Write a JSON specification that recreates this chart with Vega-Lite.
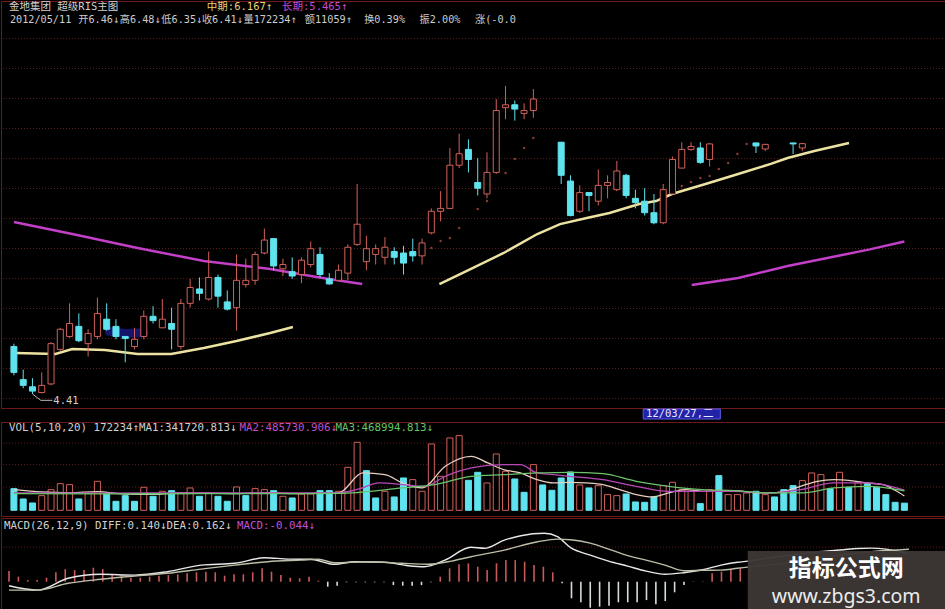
{
"$schema": "https://vega.github.io/schema/vega-lite/v6.json",
"background": "#000000",
"padding": 0,
"spacing": 0,
"resolve": {"scale": {"color": "independent"}},
"config": {"view": {"stroke": "#6e1a1a", "strokeWidth": 1}, "concat": {"spacing": 0}},
"datasets": {
"g1": [{"g":6.8808},{"g":6.6723},{"g":6.4638},{"g":6.2553},{"g":6.0468},{"g":5.8383},{"g":5.6298},{"g":5.4213},{"g":5.2128},{"g":5.0043},{"g":4.7958},{"g":4.5873},{"g":4.3788}],
"g2": [{"g":1615000},{"g":1100000},{"g":560000}],
"g3": [{"g":0.1735}],
"k": [
{"i":0,"o":4.74,"h":4.76,"l":4.54,"c":4.56,"d":"dn"},
{"i":1,"o":4.51,"h":4.58,"l":4.45,"c":4.47,"d":"dn"},
{"i":2,"o":4.46,"h":4.52,"l":4.41,"c":4.43,"d":"dn"},
{"i":3,"o":4.42,"h":4.56,"l":4.415,"c":4.47,"d":"up"},
{"i":4,"o":4.48,"h":4.77,"l":4.47,"c":4.76,"d":"up"},
{"i":5,"o":4.72,"h":4.87,"l":4.71,"c":4.86,"d":"up"},
{"i":6,"o":4.81,"h":5.04,"l":4.80,"c":4.90,"d":"up"},
{"i":7,"o":4.88,"h":4.97,"l":4.77,"c":4.78,"d":"dn"},
{"i":8,"o":4.76,"h":4.86,"l":4.67,"c":4.83,"d":"up"},
{"i":9,"o":4.81,"h":5.08,"l":4.79,"c":4.97,"d":"up"},
{"i":10,"o":4.93,"h":5.04,"l":4.85,"c":4.86,"d":"dn"},
{"i":11,"o":4.88,"h":4.93,"l":4.79,"c":4.81,"d":"dn"},
{"i":12,"o":4.81,"h":4.81,"l":4.63,"c":4.795,"d":"dn"},
{"i":13,"o":4.74,"h":4.87,"l":4.72,"c":4.79,"d":"up"},
{"i":14,"o":4.81,"h":4.99,"l":4.79,"c":4.95,"d":"up"},
{"i":15,"o":4.95,"h":5.02,"l":4.90,"c":4.92,"d":"dn"},
{"i":16,"o":4.87,"h":5.07,"l":4.87,"c":4.93,"d":"up"},
{"i":17,"o":4.90,"h":5.01,"l":4.72,"c":4.86,"d":"dn"},
{"i":18,"o":4.74,"h":5.07,"l":4.72,"c":5.04,"d":"up"},
{"i":19,"o":5.04,"h":5.21,"l":5.01,"c":5.15,"d":"up"},
{"i":20,"o":5.14,"h":5.22,"l":5.06,"c":5.11,"d":"dn"},
{"i":21,"o":5.07,"h":5.40,"l":5.06,"c":5.22,"d":"up"},
{"i":22,"o":5.22,"h":5.24,"l":5.01,"c":5.09,"d":"dn"},
{"i":23,"o":5.05,"h":5.13,"l":4.99,"c":5.00,"d":"dn"},
{"i":24,"o":5.01,"h":5.38,"l":4.85,"c":5.20,"d":"up"},
{"i":25,"o":5.17,"h":5.35,"l":5.15,"c":5.20,"d":"up"},
{"i":26,"o":5.20,"h":5.40,"l":5.17,"c":5.38,"d":"up"},
{"i":27,"o":5.39,"h":5.56,"l":5.38,"c":5.48,"d":"up"},
{"i":28,"o":5.49,"h":5.49,"l":5.27,"c":5.30,"d":"dn"},
{"i":29,"o":5.28,"h":5.35,"l":5.23,"c":5.31,"d":"up"},
{"i":30,"o":5.26,"h":5.36,"l":5.21,"c":5.23,"d":"dn"},
{"i":31,"o":5.24,"h":5.36,"l":5.18,"c":5.34,"d":"up"},
{"i":32,"o":5.31,"h":5.47,"l":5.29,"c":5.42,"d":"up"},
{"i":33,"o":5.38,"h":5.43,"l":5.22,"c":5.24,"d":"dn"},
{"i":34,"o":5.21,"h":5.25,"l":5.17,"c":5.175,"d":"dn"},
{"i":35,"o":5.20,"h":5.31,"l":5.20,"c":5.27,"d":"up"},
{"i":36,"o":5.25,"h":5.45,"l":5.20,"c":5.43,"d":"up"},
{"i":37,"o":5.45,"h":5.87,"l":5.44,"c":5.59,"d":"up"},
{"i":38,"o":5.33,"h":5.51,"l":5.27,"c":5.42,"d":"up"},
{"i":39,"o":5.38,"h":5.45,"l":5.31,"c":5.42,"d":"up"},
{"i":40,"o":5.36,"h":5.50,"l":5.31,"c":5.43,"d":"up"},
{"i":41,"o":5.40,"h":5.43,"l":5.31,"c":5.36,"d":"dn"},
{"i":42,"o":5.39,"h":5.44,"l":5.24,"c":5.32,"d":"dn"},
{"i":43,"o":5.40,"h":5.49,"l":5.33,"c":5.37,"d":"dn"},
{"i":44,"o":5.37,"h":5.49,"l":5.31,"c":5.46,"d":"up"},
{"i":45,"o":5.53,"h":5.70,"l":5.52,"c":5.68,"d":"up"},
{"i":46,"o":5.68,"h":5.82,"l":5.61,"c":5.70,"d":"up"},
{"i":47,"o":5.70,"h":6.12,"l":5.70,"c":6.00,"d":"up"},
{"i":48,"o":6.00,"h":6.22,"l":5.98,"c":6.08,"d":"up"},
{"i":49,"o":6.11,"h":6.18,"l":5.95,"c":6.04,"d":"dn"},
{"i":50,"o":5.88,"h":6.05,"l":5.79,"c":5.84,"d":"dn"},
{"i":51,"o":5.80,"h":6.09,"l":5.77,"c":5.95,"d":"up"},
{"i":52,"o":5.95,"h":6.46,"l":5.94,"c":6.38,"d":"up"},
{"i":53,"o":6.40,"h":6.55,"l":6.32,"c":6.42,"d":"up"},
{"i":54,"o":6.42,"h":6.45,"l":6.31,"c":6.39,"d":"dn"},
{"i":55,"o":6.36,"h":6.43,"l":6.32,"c":6.38,"d":"up"},
{"i":56,"o":6.38,"h":6.53,"l":6.33,"c":6.46,"d":"up"},
{"i":59,"o":6.16,"h":6.16,"l":5.87,"c":5.93,"d":"dn"},
{"i":60,"o":5.89,"h":5.93,"l":5.645,"c":5.65,"d":"dn"},
{"i":61,"o":5.68,"h":5.86,"l":5.67,"c":5.81,"d":"up"},
{"i":62,"o":5.81,"h":5.81,"l":5.68,"c":5.79,"d":"dn"},
{"i":63,"o":5.75,"h":5.97,"l":5.72,"c":5.86,"d":"up"},
{"i":64,"o":5.86,"h":5.93,"l":5.77,"c":5.88,"d":"up"},
{"i":65,"o":5.83,"h":6.03,"l":5.82,"c":5.96,"d":"up"},
{"i":66,"o":5.93,"h":5.94,"l":5.77,"c":5.79,"d":"dn"},
{"i":67,"o":5.77,"h":5.83,"l":5.70,"c":5.74,"d":"dn"},
{"i":68,"o":5.75,"h":5.84,"l":5.65,"c":5.67,"d":"dn"},
{"i":69,"o":5.67,"h":5.80,"l":5.59,"c":5.60,"d":"dn"},
{"i":70,"o":5.60,"h":5.87,"l":5.59,"c":5.83,"d":"up"},
{"i":71,"o":5.80,"h":6.06,"l":5.80,"c":6.04,"d":"up"},
{"i":72,"o":5.98,"h":6.16,"l":5.98,"c":6.11,"d":"up"},
{"i":73,"o":6.11,"h":6.16,"l":6.10,"c":6.13,"d":"up"},
{"i":74,"o":6.12,"h":6.16,"l":6.01,"c":6.02,"d":"dn"},
{"i":75,"o":6.04,"h":6.155,"l":5.99,"c":6.148,"d":"up"},
{"i":80,"o":6.155,"h":6.155,"l":6.085,"c":6.134,"d":"dn"},
{"i":81,"o":6.113,"h":6.148,"l":6.099,"c":6.145,"d":"up"},
{"i":84,"o":6.155,"h":6.155,"l":6.078,"c":6.148,"d":"dn"},
{"i":85,"o":6.12,"h":6.155,"l":6.10,"c":6.15,"d":"up"}
],
"ma": [
{"s":"p1","i":0,"p":5.605},{"s":"p1","i":6.29,"p":5.522},{"s":"p1","i":13.33,"p":5.425},{"s":"p1","i":20.48,"p":5.334},{"s":"p1","i":27.63,"p":5.279},{"s":"p1","i":33.28,"p":5.216},{"s":"p1","i":36.8,"p":5.181},{"s":"p1","i":37.55,"p":5.174},
{"s":"p2","i":73.07,"p":5.168},{"s":"p2","i":78.08,"p":5.216},{"s":"p2","i":83.41,"p":5.3},{"s":"p2","i":88.75,"p":5.369},{"s":"p2","i":92.27,"p":5.415},{"s":"p2","i":96,"p":5.47},
{"s":"y1","i":0.21,"p":4.695},{"s":"y1","i":4.48,"p":4.688},{"s":"y1","i":6.29,"p":4.723},{"s":"y1","i":9.81,"p":4.716},{"s":"y1","i":13.33,"p":4.688},{"s":"y1","i":16.96,"p":4.688},{"s":"y1","i":20.48,"p":4.73},{"s":"y1","i":24.0,"p":4.778},{"s":"y1","i":27.63,"p":4.834},{"s":"y1","i":30.08,"p":4.876},
{"s":"y2","i":45.87,"p":5.174},{"s":"y2","i":49.28,"p":5.279},{"s":"y2","i":52.8,"p":5.39},{"s":"y2","i":56.43,"p":5.522},{"s":"y2","i":58.88,"p":5.591},{"s":"y2","i":61.76,"p":5.633},{"s":"y2","i":64.21,"p":5.668},{"s":"y2","i":67.41,"p":5.731},{"s":"y2","i":69.23,"p":5.751},{"s":"y2","i":70.93,"p":5.8},{"s":"y2","i":74.56,"p":5.87},{"s":"y2","i":78.08,"p":5.939},{"s":"y2","i":81.6,"p":6.009},{"s":"y2","i":83.41,"p":6.05},{"s":"y2","i":86.29,"p":6.099},{"s":"y2","i":90.03,"p":6.155}
],
"dots": [
{"i":45,"p":5.425},{"i":46,"p":5.473},{"i":47,"p":5.494},{"i":48,"p":5.564},{"i":50,"p":5.696},{"i":51,"p":5.751},{"i":53,"p":5.946},{"i":54,"p":6.043},{"i":55,"p":6.12},{"i":56,"p":6.189},
{"i":72,"p":5.856},{"i":73,"p":5.883},{"i":74,"p":5.911},{"i":75,"p":5.925},{"i":76,"p":5.974},{"i":77,"p":6.016},{"i":78,"p":6.078},{"i":79,"p":6.148}
],
"vol": [
{"i":0,"v":520000,"d":"dn"},{"i":1,"v":272000,"d":"dn"},{"i":2,"v":176000,"d":"dn"},{"i":3,"v":352000,"d":"up"},{"i":4,"v":496000,"d":"up"},{"i":5,"v":640000,"d":"up"},{"i":6,"v":616000,"d":"up"},{"i":7,"v":272000,"d":"dn"},{"i":8,"v":400000,"d":"up"},{"i":9,"v":696000,"d":"up"},
{"i":10,"v":400000,"d":"dn"},{"i":11,"v":216000,"d":"dn"},{"i":12,"v":352000,"d":"dn"},{"i":13,"v":216000,"d":"dn"},{"i":14,"v":552000,"d":"up"},{"i":15,"v":336000,"d":"dn"},{"i":16,"v":456000,"d":"up"},{"i":17,"v":472000,"d":"dn"},{"i":18,"v":400000,"d":"up"},{"i":19,"v":536000,"d":"up"},
{"i":20,"v":336000,"d":"dn"},{"i":21,"v":416000,"d":"up"},{"i":22,"v":336000,"d":"dn"},{"i":23,"v":216000,"d":"dn"},{"i":24,"v":560000,"d":"up"},{"i":25,"v":352000,"d":"dn"},{"i":26,"v":520000,"d":"up"},{"i":27,"v":496000,"d":"up"},{"i":28,"v":472000,"d":"dn"},{"i":29,"v":336000,"d":"up"},
{"i":30,"v":296000,"d":"dn"},{"i":31,"v":392000,"d":"up"},{"i":32,"v":392000,"d":"up"},{"i":33,"v":472000,"d":"dn"},{"i":34,"v":472000,"d":"dn"},{"i":35,"v":456000,"d":"up"},{"i":36,"v":1032000,"d":"up"},{"i":37,"v":1632000,"d":"up"},{"i":38,"v":952000,"d":"dn"},{"i":39,"v":296000,"d":"dn"},
{"i":40,"v":456000,"d":"up"},{"i":41,"v":320000,"d":"dn"},{"i":42,"v":776000,"d":"dn"},{"i":43,"v":736000,"d":"up"},{"i":44,"v":456000,"d":"up"},{"i":45,"v":1592000,"d":"up"},{"i":46,"v":816000,"d":"up"},{"i":47,"v":1736000,"d":"up"},{"i":48,"v":1792000,"d":"up"},{"i":49,"v":720000,"d":"dn"},
{"i":50,"v":912000,"d":"dn"},{"i":51,"v":656000,"d":"up"},{"i":52,"v":1352000,"d":"up"},{"i":53,"v":936000,"d":"up"},{"i":54,"v":752000,"d":"dn"},{"i":55,"v":432000,"d":"dn"},{"i":56,"v":1096000,"d":"up"},{"i":57,"v":608000,"d":"dn"},{"i":58,"v":480000,"d":"dn"},{"i":59,"v":776000,"d":"dn"},
{"i":60,"v":920000,"d":"dn"},{"i":61,"v":608000,"d":"up"},{"i":62,"v":536000,"d":"dn"},{"i":63,"v":592000,"d":"up"},{"i":64,"v":376000,"d":"up"},{"i":65,"v":352000,"d":"up"},{"i":66,"v":392000,"d":"dn"},{"i":67,"v":200000,"d":"dn"},{"i":68,"v":192000,"d":"dn"},{"i":69,"v":320000,"d":"dn"},
{"i":70,"v":592000,"d":"up"},{"i":71,"v":672000,"d":"up"},{"i":72,"v":496000,"d":"up"},{"i":73,"v":456000,"d":"up"},{"i":74,"v":160000,"d":"dn"},{"i":75,"v":496000,"d":"up"},{"i":76,"v":832000,"d":"dn"},{"i":77,"v":376000,"d":"up"},{"i":78,"v":376000,"d":"up"},{"i":79,"v":416000,"d":"up"},
{"i":80,"v":456000,"d":"dn"},{"i":81,"v":376000,"d":"up"},{"i":82,"v":320000,"d":"dn"},{"i":83,"v":496000,"d":"dn"},{"i":84,"v":592000,"d":"dn"},{"i":85,"v":712000,"d":"up"},{"i":86,"v":896000,"d":"up"},{"i":87,"v":856000,"d":"up"},{"i":88,"v":520000,"d":"dn"},{"i":89,"v":912000,"d":"up"},
{"i":90,"v":552000,"d":"dn"},{"i":91,"v":656000,"d":"up"},{"i":92,"v":640000,"d":"dn"},{"i":93,"v":552000,"d":"dn"},{"i":94,"v":376000,"d":"dn"},{"i":95,"v":192000,"d":"dn"},{"i":96,"v":172234,"d":"dn"}
],
"vma": [
{"s":"MA1","i":0,"v":496000},{"s":"MA1","i":3,"v":440000},{"s":"MA1","i":6,"v":420000},{"s":"MA1","i":9,"v":450000},{"s":"MA1","i":12,"v":390000},{"s":"MA1","i":15,"v":380000},{"s":"MA1","i":18,"v":420000},{"s":"MA1","i":21,"v":410000},{"s":"MA1","i":24,"v":400000},{"s":"MA1","i":27,"v":420000},{"s":"MA1","i":30,"v":400000},{"s":"MA1","i":33,"v":410000},{"s":"MA1","i":35,"v":416000},{"s":"MA1","i":37.6,"v":896000},{"s":"MA1","i":40,"v":856000},{"s":"MA1","i":41.9,"v":656000},{"s":"MA1","i":44,"v":536000},{"s":"MA1","i":46.5,"v":1056000},{"s":"MA1","i":49.3,"v":1296000},{"s":"MA1","i":51.1,"v":1136000},{"s":"MA1","i":52.8,"v":976000},{"s":"MA1","i":54.6,"v":896000},{"s":"MA1","i":56.4,"v":736000},{"s":"MA1","i":58.2,"v":656000},{"s":"MA1","i":59.9,"v":672000},{"s":"MA1","i":61.7,"v":656000},{"s":"MA1","i":63.5,"v":616000},{"s":"MA1","i":65.3,"v":496000},{"s":"MA1","i":67.1,"v":376000},{"s":"MA1","i":68.8,"v":320000},{"s":"MA1","i":70.6,"v":416000},{"s":"MA1","i":72.4,"v":496000},{"s":"MA1","i":74.2,"v":456000},{"s":"MA1","i":76,"v":456000},{"s":"MA1","i":77.7,"v":472000},{"s":"MA1","i":79.5,"v":432000},{"s":"MA1","i":81.3,"v":416000},{"s":"MA1","i":83.1,"v":456000},{"s":"MA1","i":84.8,"v":576000},{"s":"MA1","i":86.6,"v":696000},{"s":"MA1","i":88.4,"v":736000},{"s":"MA1","i":90.2,"v":712000},{"s":"MA1","i":92,"v":656000},{"s":"MA1","i":93.7,"v":616000},{"s":"MA1","i":95,"v":480000},{"s":"MA1","i":96,"v":341720},
{"s":"MA2","i":0,"v":416000},{"s":"MA2","i":10,"v":410000},{"s":"MA2","i":20,"v":420000},{"s":"MA2","i":30,"v":416000},{"s":"MA2","i":35,"v":416000},{"s":"MA2","i":37,"v":500000},{"s":"MA2","i":39.4,"v":656000},{"s":"MA2","i":41.9,"v":616000},{"s":"MA2","i":44.3,"v":576000},{"s":"MA2","i":46.5,"v":816000},{"s":"MA2","i":49.3,"v":1016000},{"s":"MA2","i":52.8,"v":1096000},{"s":"MA2","i":54.6,"v":1096000},{"s":"MA2","i":56.4,"v":896000},{"s":"MA2","i":58.2,"v":856000},{"s":"MA2","i":59.9,"v":816000},{"s":"MA2","i":63.5,"v":736000},{"s":"MA2","i":67.1,"v":576000},{"s":"MA2","i":70.6,"v":456000},{"s":"MA2","i":74.2,"v":456000},{"s":"MA2","i":77.7,"v":456000},{"s":"MA2","i":81.3,"v":416000},{"s":"MA2","i":84.8,"v":496000},{"s":"MA2","i":88.4,"v":656000},{"s":"MA2","i":92,"v":656000},{"s":"MA2","i":96,"v":485730},
{"s":"MA3","i":0,"v":400000},{"s":"MA3","i":10,"v":395000},{"s":"MA3","i":20,"v":400000},{"s":"MA3","i":30,"v":400000},{"s":"MA3","i":35,"v":405000},{"s":"MA3","i":41.9,"v":536000},{"s":"MA3","i":45.4,"v":616000},{"s":"MA3","i":49.3,"v":816000},{"s":"MA3","i":52.8,"v":856000},{"s":"MA3","i":56.4,"v":896000},{"s":"MA3","i":59.9,"v":912000},{"s":"MA3","i":63.5,"v":880000},{"s":"MA3","i":67.1,"v":696000},{"s":"MA3","i":70.6,"v":576000},{"s":"MA3","i":74.2,"v":496000},{"s":"MA3","i":77.7,"v":472000},{"s":"MA3","i":81.3,"v":416000},{"s":"MA3","i":84.8,"v":416000},{"s":"MA3","i":88.4,"v":536000},{"s":"MA3","i":92,"v":576000},{"s":"MA3","i":96,"v":468994}
],
"macd": [
{"i":0,"m":0.053},{"i":1,"m":0.025},{"i":2,"m":0.008},{"i":3,"m":0.008},{"i":4,"m":0.02},{"i":5,"m":0.047},{"i":6,"m":0.063},{"i":7,"m":0.058},{"i":8,"m":0.058},{"i":9,"m":0.07},
{"i":10,"m":0.063},{"i":11,"m":0.037},{"i":12,"m":0.033},{"i":13,"m":0.02},{"i":14,"m":0.02},{"i":15,"m":0.025},{"i":16,"m":0.03},{"i":17,"m":0.033},{"i":18,"m":0.037},{"i":19,"m":0.042},
{"i":20,"m":0.047},{"i":21,"m":0.05},{"i":22,"m":0.047},{"i":23,"m":0.03},{"i":24,"m":0.037},{"i":25,"m":0.037},{"i":26,"m":0.047},{"i":27,"m":0.067},{"i":28,"m":0.05},{"i":29,"m":0.033},
{"i":30,"m":0.02},{"i":31,"m":0.017},{"i":32,"m":0.025},{"i":33,"m":0.005},{"i":34,"m":-0.025},{"i":35,"m":-0.02},{"i":36,"m":-0.003},{"i":37,"m":-0.003},{"i":38,"m":-0.003},{"i":39,"m":-0.003},
{"i":40,"m":-0.003},{"i":41,"m":-0.017},{"i":42,"m":-0.02},{"i":43,"m":-0.02},{"i":44,"m":-0.017},{"i":45,"m":-0.003},{"i":46,"m":0.025},{"i":47,"m":0.067},{"i":48,"m":0.087},{"i":49,"m":0.092},
{"i":50,"m":0.075},{"i":51,"m":0.058},{"i":52,"m":0.092},{"i":53,"m":0.108},{"i":54,"m":0.108},{"i":55,"m":0.1},{"i":56,"m":0.083},{"i":57,"m":0.075},{"i":58,"m":0.047},{"i":59,"m":-0.008},
{"i":60,"m":-0.083},{"i":61,"m":-0.103},{"i":62,"m":-0.13},{"i":63,"m":-0.125},{"i":64,"m":-0.12},{"i":65,"m":-0.103},{"i":66,"m":-0.103},{"i":67,"m":-0.103},{"i":68,"m":-0.092},{"i":69,"m":-0.113},
{"i":70,"m":-0.097},{"i":71,"m":-0.053},{"i":72,"m":-0.017},{"i":73,"m":0.002},{"i":74,"m":0.002},{"i":75,"m":0.042},{"i":76,"m":0.05},{"i":77,"m":0.058},{"i":78,"m":0.067},{"i":79,"m":0.075}
],
"ml": [
{"s":"DIFF","i":0,"v":-0.02},{"s":"DIFF","i":3.1,"v":-0.042},{"s":"DIFF","i":6.3,"v":0.017},{"s":"DIFF","i":9.8,"v":0.037},{"s":"DIFF","i":13.4,"v":0.033},{"s":"DIFF","i":16.9,"v":0.05},{"s":"DIFF","i":20.5,"v":0.083},{"s":"DIFF","i":24.1,"v":0.092},{"s":"DIFF","i":27.3,"v":0.12},{"s":"DIFF","i":29.8,"v":0.113},{"s":"DIFF","i":32.2,"v":0.112},{"s":"DIFF","i":34.7,"v":0.087},{"s":"DIFF","i":36.9,"v":0.1},{"s":"DIFF","i":40.1,"v":0.097},{"s":"DIFF","i":42.6,"v":0.08},{"s":"DIFF","i":44.3,"v":0.075},{"s":"DIFF","i":46.5,"v":0.108},{"s":"DIFF","i":49.28,"v":0.172},{"s":"DIFF","i":50.7,"v":0.167},{"s":"DIFF","i":52.84,"v":0.208},{"s":"DIFF","i":54.6,"v":0.23},{"s":"DIFF","i":57.1,"v":0.242},{"s":"DIFF","i":58.5,"v":0.225},{"s":"DIFF","i":59.9,"v":0.17},{"s":"DIFF","i":62.0,"v":0.133},{"s":"DIFF","i":63.96,"v":0.103},{"s":"DIFF","i":65.99,"v":0.078},{"s":"DIFF","i":67.95,"v":0.053},{"s":"DIFF","i":69.97,"v":0.037},{"s":"DIFF","i":71.97,"v":0.045},{"s":"DIFF","i":73.99,"v":0.06},{"s":"DIFF","i":75.95,"v":0.083},{"s":"DIFF","i":77.7,"v":0.097},{"s":"DIFF","i":78.8,"v":0.103},{"s":"DIFF","i":82,"v":0.125},{"s":"DIFF","i":86,"v":0.148},{"s":"DIFF","i":89,"v":0.16},{"s":"DIFF","i":90.5,"v":0.166},{"s":"DIFF","i":92,"v":0.168},{"s":"DIFF","i":93.5,"v":0.163},{"s":"DIFF","i":95,"v":0.15},{"s":"DIFF","i":96,"v":0.14},
{"s":"DEA","i":0,"v":-0.042},{"s":"DEA","i":3.1,"v":-0.042},{"s":"DEA","i":6.3,"v":-0.008},{"s":"DEA","i":9.8,"v":0.012},{"s":"DEA","i":13.4,"v":0.028},{"s":"DEA","i":16.9,"v":0.042},{"s":"DEA","i":20.5,"v":0.063},{"s":"DEA","i":24.1,"v":0.083},{"s":"DEA","i":27.6,"v":0.1},{"s":"DEA","i":31.2,"v":0.108},{"s":"DEA","i":33,"v":0.112},{"s":"DEA","i":34.7,"v":0.095},{"s":"DEA","i":38.3,"v":0.1},{"s":"DEA","i":41.9,"v":0.092},{"s":"DEA","i":44.7,"v":0.087},{"s":"DEA","i":47.2,"v":0.103},{"s":"DEA","i":49.28,"v":0.125},{"s":"DEA","i":52.84,"v":0.158},{"s":"DEA","i":56.4,"v":0.2},{"s":"DEA","i":58.5,"v":0.213},{"s":"DEA","i":59.9,"v":0.21},{"s":"DEA","i":62.0,"v":0.193},{"s":"DEA","i":63.96,"v":0.163},{"s":"DEA","i":65.99,"v":0.13},{"s":"DEA","i":67.95,"v":0.108},{"s":"DEA","i":69.97,"v":0.083},{"s":"DEA","i":71.97,"v":0.055},{"s":"DEA","i":73.99,"v":0.057},{"s":"DEA","i":75.95,"v":0.058},{"s":"DEA","i":77.7,"v":0.067},{"s":"DEA","i":78.8,"v":0.073},{"s":"DEA","i":84,"v":0.1},{"s":"DEA","i":88,"v":0.13},{"s":"DEA","i":92,"v":0.15},{"s":"DEA","i":96,"v":0.162}
]
},
"vconcat": [
{
"width": 945, "height": 407,
"layer": [
{"data": {"name": "g1"}, "mark": {"type": "rule", "color": "#5e1c1c", "strokeWidth": 1, "strokeDash": [1, 2]},
 "encoding": {
  "y": {"field": "g", "type": "quantitative", "scale": {"domain": [4.3127, 7.1414], "nice": false, "zero": false}, "axis": null}
 }},
{"data": {"name": "ma"}, "mark": {"type": "line", "strokeWidth": 2.5},
 "encoding": {
  "x": {"field": "i", "type": "quantitative", "scale": {"domain": [-0.8533, 99.947], "nice": false, "zero": false}, "axis": null},
  "y": {"field": "p", "type": "quantitative", "scale": {"domain": [4.3127, 7.1414], "nice": false, "zero": false}, "axis": null},
  "color": {"field": "s", "type": "nominal", "scale": {"domain": ["p1", "p2", "y1", "y2"], "range": ["#c23fc8", "#c23fc8", "#ece3a2", "#ece3a2"]}, "legend": null},
  "detail": {"field": "s"}
 }},
{"data": {"values": [{"i": 10.3, "p": 4.845}, {"i": 12, "p": 4.83}, {"i": 14, "p": 4.835}]}, "mark": {"type": "line", "color": "#2a2ad8", "strokeWidth": 9, "opacity": 0.5, "strokeCap": "round"},
 "encoding": {
  "x": {"field": "i", "type": "quantitative", "scale": {"domain": [-0.8533, 99.947], "nice": false, "zero": false}, "axis": null},
  "y": {"field": "p", "type": "quantitative", "scale": {"domain": [4.3127, 7.1414], "nice": false, "zero": false}, "axis": null}
 }},
{"data": {"name": "k"}, "transform": [{"filter": "datum.d == 'up'"}], "mark": {"type": "rule", "color": "#d2605a", "strokeWidth": 1},
 "encoding": {
  "x": {"field": "i", "type": "quantitative", "scale": {"domain": [-0.8533, 99.947], "nice": false, "zero": false},
        "axis": {"orient": "bottom", "values": [0, 5, 10, 15, 20, 25, 30, 35, 40, 45, 51, 55, 60, 65, 70, 75, 80, 85, 89, 95],
                 "labelExpr": "datum.value == 0 ? '2011' : datum.value == 15 ? '2012' : datum.value == 30 ? '02' : datum.value == 51 ? '03' : datum.value == 89 ? '05' : ''",
                 "grid": false, "domain": false, "tickColor": "#8a8a8a", "tickSize": 3, "labelColor": "#cccccc", "labelFont": "DejaVu Sans Mono", "labelFontSize": 10.5,
                 "labelAlign": "left", "labelPadding": 0, "labelOffset": 2, "labelOverlap": false, "labelBound": false, "labelFlush": false, "title": null}},
  "y": {"field": "l", "type": "quantitative", "scale": {"domain": [4.3127, 7.1414], "nice": false, "zero": false}, "axis": null},
  "y2": {"field": "h"}
 }},
{"data": {"name": "k"}, "transform": [{"filter": "datum.d == 'dn'"}], "mark": {"type": "rule", "color": "#5fe3ee", "strokeWidth": 1},
 "encoding": {
  "x": {"field": "i", "type": "quantitative", "scale": {"domain": [-0.8533, 99.947], "nice": false, "zero": false}, "axis": null},
  "y": {"field": "l", "type": "quantitative", "scale": {"domain": [4.3127, 7.1414], "nice": false, "zero": false}, "axis": null},
  "y2": {"field": "h"}
 }},
{"data": {"name": "k"}, "transform": [{"filter": "datum.d == 'up'"}], "mark": {"type": "bar", "width": 6, "fill": "#000000", "stroke": "#d2605a", "strokeWidth": 1},
 "encoding": {
  "x": {"field": "i", "type": "quantitative", "scale": {"domain": [-0.8533, 99.947], "nice": false, "zero": false}, "axis": null},
  "y": {"field": "o", "type": "quantitative", "scale": {"domain": [4.3127, 7.1414], "nice": false, "zero": false}, "axis": null},
  "y2": {"field": "c"}
 }},
{"data": {"name": "k"}, "transform": [{"filter": "datum.d == 'dn'"}], "mark": {"type": "bar", "width": 6, "fill": "#5fe3ee", "stroke": "#5fe3ee", "strokeWidth": 1},
 "encoding": {
  "x": {"field": "i", "type": "quantitative", "scale": {"domain": [-0.8533, 99.947], "nice": false, "zero": false}, "axis": null},
  "y": {"field": "o", "type": "quantitative", "scale": {"domain": [4.3127, 7.1414], "nice": false, "zero": false}, "axis": null},
  "y2": {"field": "c"}
 }},
{"data": {"name": "dots"}, "mark": {"type": "circle", "size": 6, "color": "#8a3a34", "opacity": 1},
 "encoding": {
  "x": {"field": "i", "type": "quantitative", "scale": {"domain": [-0.8533, 99.947], "nice": false, "zero": false}, "axis": null},
  "y": {"field": "p", "type": "quantitative", "scale": {"domain": [4.3127, 7.1414], "nice": false, "zero": false}, "axis": null}
 }},
{"data": {"values": [{"i": 2, "p": 4.41}, {"i": 2.9, "p": 4.366}, {"i": 4.15, "p": 4.366}]}, "mark": {"type": "line", "color": "#b8b8b8", "strokeWidth": 1},
 "encoding": {
  "x": {"field": "i", "type": "quantitative", "scale": {"domain": [-0.8533, 99.947], "nice": false, "zero": false}, "axis": null},
  "y": {"field": "p", "type": "quantitative", "scale": {"domain": [4.3127, 7.1414], "nice": false, "zero": false}, "axis": null}
 }},
{"data": {"values": [{}]}, "mark": {"type": "text", "text": "4.41", "align": "left", "baseline": "middle", "font": "DejaVu Sans Mono", "fontSize": 10.5, "color": "#cfcfcf"},
 "encoding": {"x": {"datum": 4.25, "type": "quantitative", "axis": null}, "y": {"datum": 4.362, "type": "quantitative", "axis": null}}},
{"data": {"values": [{}]}, "mark": {"type": "text", "text": "金地集团 超级RIS主图", "align": "left", "baseline": "middle", "font": "DejaVu Sans Mono, Noto Sans CJK SC", "fontSize": 10.5, "color": "#d0d0d0"},
 "encoding": {"x": {"datum": -0.53, "type": "quantitative", "axis": null}, "y": {"datum": 7.0997, "type": "quantitative", "axis": null}}},
{"data": {"values": [{}]}, "mark": {"type": "text", "text": "中期:6.167↑", "align": "left", "baseline": "middle", "font": "DejaVu Sans Mono, Noto Sans CJK SC", "fontSize": 10.5, "color": "#e8d27a"},
 "encoding": {"x": {"datum": 20.8, "type": "quantitative", "axis": null}, "y": {"datum": 7.0997, "type": "quantitative", "axis": null}}},
{"data": {"values": [{}]}, "mark": {"type": "text", "text": "长期:5.465↑", "align": "left", "baseline": "middle", "font": "DejaVu Sans Mono, Noto Sans CJK SC", "fontSize": 10.5, "color": "#c84ad0"},
 "encoding": {"x": {"datum": 28.9, "type": "quantitative", "axis": null}, "y": {"datum": 7.0997, "type": "quantitative", "axis": null}}},
{"data": {"values": [{}]}, "mark": {"type": "text", "text": "2012/05/11", "align": "left", "baseline": "middle", "font": "DejaVu Sans Mono, Noto Sans CJK SC", "fontSize": 10.2, "color": "#cccccc"},
 "encoding": {"x": {"datum": -0.43, "type": "quantitative", "axis": null}, "y": {"datum": 7.0128, "type": "quantitative", "axis": null}}},
{"data": {"values": [{}]}, "mark": {"type": "text", "text": "开6.46↓", "align": "left", "baseline": "middle", "font": "DejaVu Sans Mono, Noto Sans CJK SC", "fontSize": 10.2, "color": "#cccccc"},
 "encoding": {"x": {"datum": 6.93, "type": "quantitative", "axis": null}, "y": {"datum": 7.0128, "type": "quantitative", "axis": null}}},
{"data": {"values": [{}]}, "mark": {"type": "text", "text": "高6.48↓", "align": "left", "baseline": "middle", "font": "DejaVu Sans Mono, Noto Sans CJK SC", "fontSize": 10.2, "color": "#cccccc"},
 "encoding": {"x": {"datum": 11.41, "type": "quantitative", "axis": null}, "y": {"datum": 7.0128, "type": "quantitative", "axis": null}}},
{"data": {"values": [{}]}, "mark": {"type": "text", "text": "低6.35↓", "align": "left", "baseline": "middle", "font": "DejaVu Sans Mono, Noto Sans CJK SC", "fontSize": 10.2, "color": "#cccccc"},
 "encoding": {"x": {"datum": 15.89, "type": "quantitative", "axis": null}, "y": {"datum": 7.0128, "type": "quantitative", "axis": null}}},
{"data": {"values": [{}]}, "mark": {"type": "text", "text": "收6.41↓", "align": "left", "baseline": "middle", "font": "DejaVu Sans Mono, Noto Sans CJK SC", "fontSize": 10.2, "color": "#cccccc"},
 "encoding": {"x": {"datum": 20.27, "type": "quantitative", "axis": null}, "y": {"datum": 7.0128, "type": "quantitative", "axis": null}}},
{"data": {"values": [{}]}, "mark": {"type": "text", "text": "量172234↑", "align": "left", "baseline": "middle", "font": "DejaVu Sans Mono, Noto Sans CJK SC", "fontSize": 10.2, "color": "#cccccc"},
 "encoding": {"x": {"datum": 24.75, "type": "quantitative", "axis": null}, "y": {"datum": 7.0128, "type": "quantitative", "axis": null}}},
{"data": {"values": [{}]}, "mark": {"type": "text", "text": "额11059↑", "align": "left", "baseline": "middle", "font": "DejaVu Sans Mono, Noto Sans CJK SC", "fontSize": 10.2, "color": "#cccccc"},
 "encoding": {"x": {"datum": 31.36, "type": "quantitative", "axis": null}, "y": {"datum": 7.0128, "type": "quantitative", "axis": null}}},
{"data": {"values": [{}]}, "mark": {"type": "text", "text": "换0.39%", "align": "left", "baseline": "middle", "font": "DejaVu Sans Mono, Noto Sans CJK SC", "fontSize": 10.2, "color": "#cccccc"},
 "encoding": {"x": {"datum": 37.76, "type": "quantitative", "axis": null}, "y": {"datum": 7.0128, "type": "quantitative", "axis": null}}},
{"data": {"values": [{}]}, "mark": {"type": "text", "text": "振2.00%", "align": "left", "baseline": "middle", "font": "DejaVu Sans Mono, Noto Sans CJK SC", "fontSize": 10.2, "color": "#cccccc"},
 "encoding": {"x": {"datum": 43.73, "type": "quantitative", "axis": null}, "y": {"datum": 7.0128, "type": "quantitative", "axis": null}}},
{"data": {"values": [{}]}, "mark": {"type": "text", "text": "涨(-0.0", "align": "left", "baseline": "middle", "font": "DejaVu Sans Mono, Noto Sans CJK SC", "fontSize": 10.2, "color": "#cccccc"},
 "encoding": {"x": {"datum": 49.71, "type": "quantitative", "axis": null}, "y": {"datum": 7.0128, "type": "quantitative", "axis": null}}},
{"data": {"values": [{}]}, "mark": {"type": "rect", "fill": "#2222a8", "stroke": "#5a5ae0", "strokeWidth": 1},
 "encoding": {"x": {"datum": 67.84, "type": "quantitative", "axis": null}, "x2": {"datum": 76.16}, "y": {"datum": 4.306, "type": "quantitative", "axis": null}, "y2": {"datum": 4.236}}},
{"data": {"values": [{}]}, "mark": {"type": "text", "text": "12/03/27,二", "align": "left", "baseline": "middle", "font": "DejaVu Sans Mono, Noto Sans CJK SC", "fontSize": 10.5, "color": "#e8e8ff"},
 "encoding": {"x": {"datum": 68.15, "type": "quantitative", "axis": null}, "y": {"datum": 4.27, "type": "quantitative", "axis": null}}}
]
},
{
"width": 945, "height": 94,
"layer": [
{"data": {"name": "g2"}, "mark": {"type": "rule", "color": "#5e1c1c", "strokeWidth": 1, "strokeDash": [1, 2]},
 "encoding": {
  "y": {"field": "g", "type": "quantitative", "scale": {"domain": [-136800, 2119200], "nice": false, "zero": false}, "axis": null}
 }},
{"data": {"name": "vol"}, "transform": [{"filter": "datum.d == 'up'"}], "mark": {"type": "bar", "width": 6, "fill": "#000000", "stroke": "#d2605a", "strokeWidth": 1},
 "encoding": {
  "x": {"field": "i", "type": "quantitative", "scale": {"domain": [-0.8533, 99.947], "nice": false, "zero": false}, "axis": null},
  "y": {"field": "v", "type": "quantitative", "scale": {"domain": [-136800, 2119200], "nice": false, "zero": false}, "axis": null},
  "y2": {"datum": 0}
 }},
{"data": {"name": "vol"}, "transform": [{"filter": "datum.d == 'dn'"}], "mark": {"type": "bar", "width": 6, "fill": "#5fe3ee", "stroke": "#5fe3ee", "strokeWidth": 1},
 "encoding": {
  "x": {"field": "i", "type": "quantitative", "scale": {"domain": [-0.8533, 99.947], "nice": false, "zero": false}, "axis": null},
  "y": {"field": "v", "type": "quantitative", "scale": {"domain": [-136800, 2119200], "nice": false, "zero": false}, "axis": null},
  "y2": {"datum": 0}
 }},
{"data": {"name": "vma"}, "mark": {"type": "line", "strokeWidth": 1.3, "interpolate": "monotone"},
 "encoding": {
  "x": {"field": "i", "type": "quantitative", "scale": {"domain": [-0.8533, 99.947], "nice": false, "zero": false}, "axis": null},
  "y": {"field": "v", "type": "quantitative", "scale": {"domain": [-136800, 2119200], "nice": false, "zero": false}, "axis": null},
  "color": {"field": "s", "type": "nominal", "scale": {"domain": ["MA1", "MA2", "MA3"], "range": ["#e6cfc2", "#b848b8", "#6cc46c"]}, "legend": null}
 }},
{"data": {"values": [{}]}, "mark": {"type": "text", "text": "VOL(5,10,20) 172234↑MA1:341720.813↓", "align": "left", "baseline": "middle", "font": "DejaVu Sans Mono", "fontSize": 10.8, "color": "#d0d0d0"},
 "encoding": {"x": {"datum": -0.53, "type": "quantitative", "axis": null}, "y": {"datum": 1975000, "type": "quantitative", "axis": null}}},
{"data": {"values": [{}]}, "mark": {"type": "text", "text": "MA2:485730.906↓", "align": "left", "baseline": "middle", "font": "DejaVu Sans Mono", "fontSize": 10.8, "color": "#c050c8"},
 "encoding": {"x": {"datum": 24.32, "type": "quantitative", "axis": null}, "y": {"datum": 1975000, "type": "quantitative", "axis": null}}},
{"data": {"values": [{}]}, "mark": {"type": "text", "text": "MA3:468994.813↓", "align": "left", "baseline": "middle", "font": "DejaVu Sans Mono", "fontSize": 10.8, "color": "#66c466"},
 "encoding": {"x": {"datum": 34.67, "type": "quantitative", "axis": null}, "y": {"datum": 1975000, "type": "quantitative", "axis": null}}}
]
},
{
"width": 945, "height": 96,
"layer": [
{"data": {"name": "g3"}, "mark": {"type": "rule", "color": "#5e1c1c", "strokeWidth": 1, "strokeDash": [1, 2]},
 "encoding": {
  "y": {"field": "g", "type": "quantitative", "scale": {"domain": [-0.1615, 0.3185], "nice": false, "zero": false}, "axis": null}
 }},
{"data": {"name": "macd"}, "transform": [{"filter": "datum.m > 0"}], "mark": {"type": "rule", "color": "#c85a5a", "strokeWidth": 1.6},
 "encoding": {
  "x": {"field": "i", "type": "quantitative", "scale": {"domain": [-0.8533, 99.947], "nice": false, "zero": false}, "axis": null},
  "y": {"field": "m", "type": "quantitative", "scale": {"domain": [-0.1615, 0.3185], "nice": false, "zero": false}, "axis": null},
  "y2": {"datum": 0}
 }},
{"data": {"name": "macd"}, "transform": [{"filter": "datum.m <= 0"}], "mark": {"type": "rule", "color": "#d6dcdc", "strokeWidth": 1.6},
 "encoding": {
  "x": {"field": "i", "type": "quantitative", "scale": {"domain": [-0.8533, 99.947], "nice": false, "zero": false}, "axis": null},
  "y": {"field": "m", "type": "quantitative", "scale": {"domain": [-0.1615, 0.3185], "nice": false, "zero": false}, "axis": null},
  "y2": {"datum": 0}
 }},
{"data": {"name": "ml"}, "mark": {"type": "line", "strokeWidth": 1.4, "interpolate": "monotone"},
 "encoding": {
  "x": {"field": "i", "type": "quantitative", "scale": {"domain": [-0.8533, 99.947], "nice": false, "zero": false}, "axis": null},
  "y": {"field": "v", "type": "quantitative", "scale": {"domain": [-0.1615, 0.3185], "nice": false, "zero": false}, "axis": null},
  "color": {"field": "s", "type": "nominal", "scale": {"domain": ["DIFF", "DEA"], "range": ["#e8e8e8", "#bdbda8"]}, "legend": null}
 }},
{"data": {"values": [{}]}, "mark": {"type": "text", "text": "MACD(26,12,9) DIFF:0.140↓DEA:0.162↓", "align": "left", "baseline": "middle", "font": "DejaVu Sans Mono", "fontSize": 10.8, "color": "#d0d0d0"},
 "encoding": {"x": {"datum": -0.53, "type": "quantitative", "axis": null}, "y": {"datum": 0.2785, "type": "quantitative", "axis": null}}},
{"data": {"values": [{}]}, "mark": {"type": "text", "text": "MACD:-0.044↓", "align": "left", "baseline": "middle", "font": "DejaVu Sans Mono", "fontSize": 10.8, "color": "#c050d8"},
 "encoding": {"x": {"datum": 24.32, "type": "quantitative", "axis": null}, "y": {"datum": 0.2785, "type": "quantitative", "axis": null}}},
{"data": {"values": [{}]}, "mark": {"type": "rect", "fill": "#3c3635", "opacity": 0.97},
 "encoding": {"x": {"datum": 78.8, "type": "quantitative", "axis": null}, "x2": {"datum": 99.947}, "y": {"datum": 0.1535, "type": "quantitative", "axis": null}, "y2": {"datum": -0.1615}}},
{"data": {"values": [{}]}, "mark": {"type": "text", "text": "指标公式网", "align": "center", "baseline": "middle", "font": "Noto Sans CJK SC", "fontWeight": "bold", "fontSize": 23, "color": "#ffffff"},
 "encoding": {"x": {"datum": 89.3, "type": "quantitative", "axis": null}, "y": {"datum": 0.066, "type": "quantitative", "axis": null}}},
{"data": {"values": [{}]}, "mark": {"type": "text", "text": "www.zbgs3.com", "align": "center", "baseline": "middle", "font": "Noto Sans", "fontSize": 19.5, "color": "#ececec"},
 "encoding": {"x": {"datum": 89.3, "type": "quantitative", "axis": null}, "y": {"datum": -0.074, "type": "quantitative", "axis": null}}}
]
}
]
}
